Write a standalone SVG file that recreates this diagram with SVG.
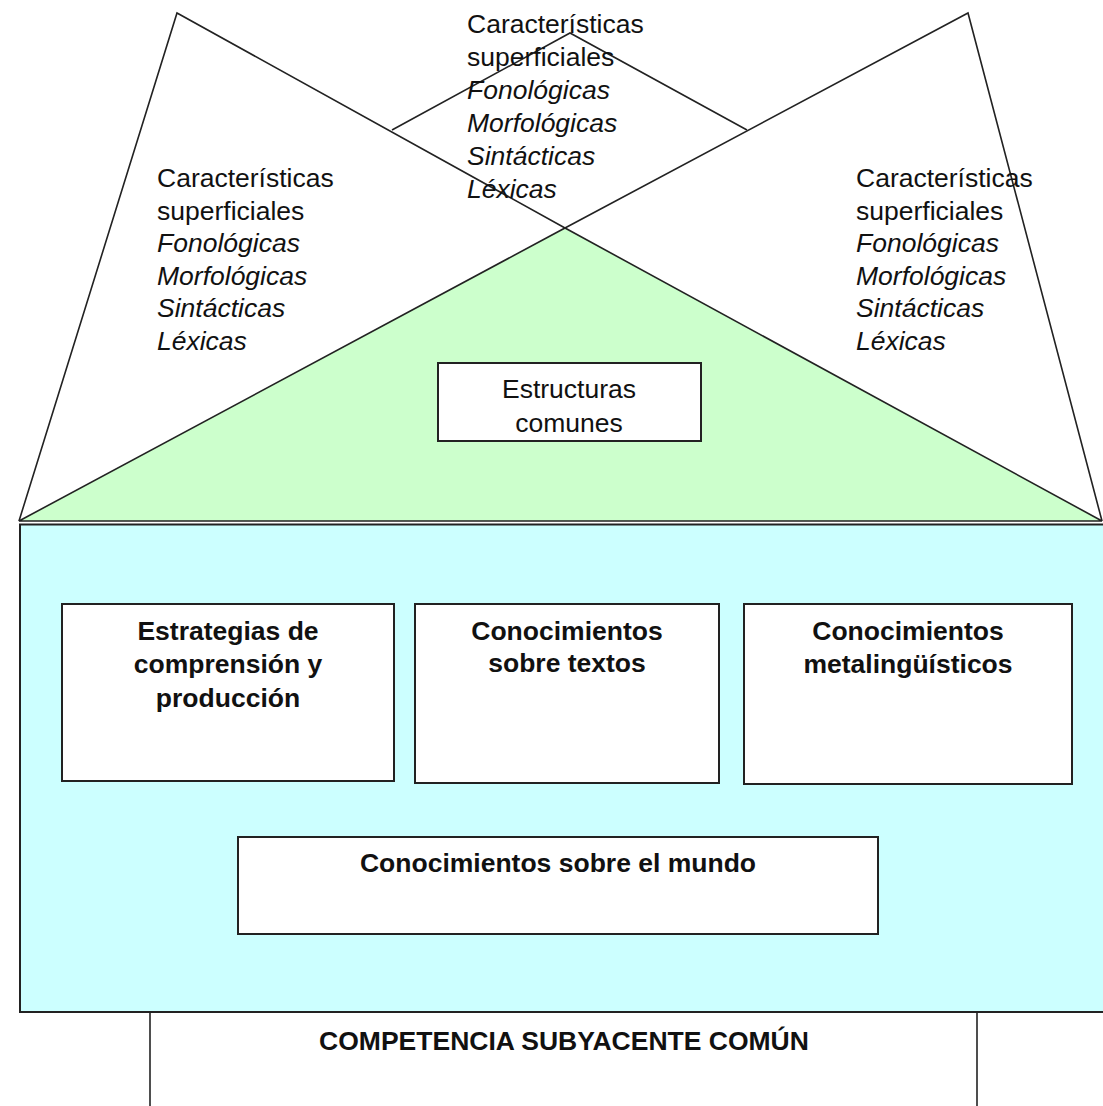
<svg xmlns="http://www.w3.org/2000/svg" width="1103" height="1106" viewBox="0 0 1103 1106">
<style>
.ln{fill:none;stroke:#222;stroke-width:1.6;stroke-linejoin:miter}
.bx{fill:#fff;stroke:#222;stroke-width:2}
.t{font-family:"Liberation Sans",Arial,sans-serif;font-size:26.5px;fill:#111}
.i{font-style:italic}
.b{font-weight:bold}
.c{text-anchor:middle}
</style>
<rect width="1103" height="1106" fill="#fff"/>
<g id="outlines">
<polyline class="ln" points="19,521 177,13 565,228"/>
<polyline class="ln" points="565,228 968,13 1102,521"/>
<polyline class="ln" points="392,130 570,33 747,130"/>
</g>
<g id="green-triangle">
<polygon points="19,521 565,228 1102,521" fill="#CCFFCC" stroke="#222" stroke-width="1.6"/>
</g>
<g id="cyan-base">
<rect x="20" y="524.5" width="1090" height="487.5" fill="#CCFFFF" stroke="#222" stroke-width="2"/>
</g>
<g id="foundation">
<line class="ln" x1="150" y1="1012" x2="150" y2="1106" stroke-width="2"/>
<line class="ln" x1="977" y1="1012" x2="977" y2="1106" stroke-width="2"/>
<text class="t b c" x="564" y="1050">COMPETENCIA SUBYACENTE COMÚN</text>
</g>
<g id="text-left">
<text class="t" x="157" y="187">Características</text>
<text class="t" x="157" y="220">superficiales</text>
<text class="t i" x="157" y="252">Fonológicas</text>
<text class="t i" x="157" y="285">Morfológicas</text>
<text class="t i" x="157" y="317">Sintácticas</text>
<text class="t i" x="157" y="350">Léxicas</text>
</g>
<g id="text-middle">
<text class="t" x="467" y="33">Características</text>
<text class="t" x="467" y="66">superficiales</text>
<text class="t i" x="467" y="99">Fonológicas</text>
<text class="t i" x="467" y="132">Morfológicas</text>
<text class="t i" x="467" y="165">Sintácticas</text>
<text class="t i" x="467" y="198">Léxicas</text>
</g>
<g id="text-right">
<text class="t" x="856" y="187">Características</text>
<text class="t" x="856" y="220">superficiales</text>
<text class="t i" x="856" y="252">Fonológicas</text>
<text class="t i" x="856" y="285">Morfológicas</text>
<text class="t i" x="856" y="317">Sintácticas</text>
<text class="t i" x="856" y="350">Léxicas</text>
</g>
<g id="estructuras-comunes">
<rect class="bx" x="438" y="363" width="263" height="78"/>
<text class="t c" x="569" y="398">Estructuras</text>
<text class="t c" x="569" y="432">comunes</text>
</g>
<g id="estrategias">
<rect class="bx" x="62" y="604" width="332" height="177"/>
<text class="t b c" x="228" y="640">Estrategias de</text>
<text class="t b c" x="228" y="673">comprensión y</text>
<text class="t b c" x="228" y="707">producción</text>
</g>
<g id="conocimientos-textos">
<rect class="bx" x="415" y="604" width="304" height="179"/>
<text class="t b c" x="567" y="640">Conocimientos</text>
<text class="t b c" x="567" y="672">sobre textos</text>
</g>
<g id="conocimientos-metalinguisticos">
<rect class="bx" x="744" y="604" width="328" height="180"/>
<text class="t b c" x="908" y="640">Conocimientos</text>
<text class="t b c" x="908" y="673">metalingüísticos</text>
</g>
<g id="conocimientos-mundo">
<rect class="bx" x="238" y="837" width="640" height="97"/>
<text class="t b c" x="558" y="872">Conocimientos sobre el mundo</text>
</g>
</svg>
